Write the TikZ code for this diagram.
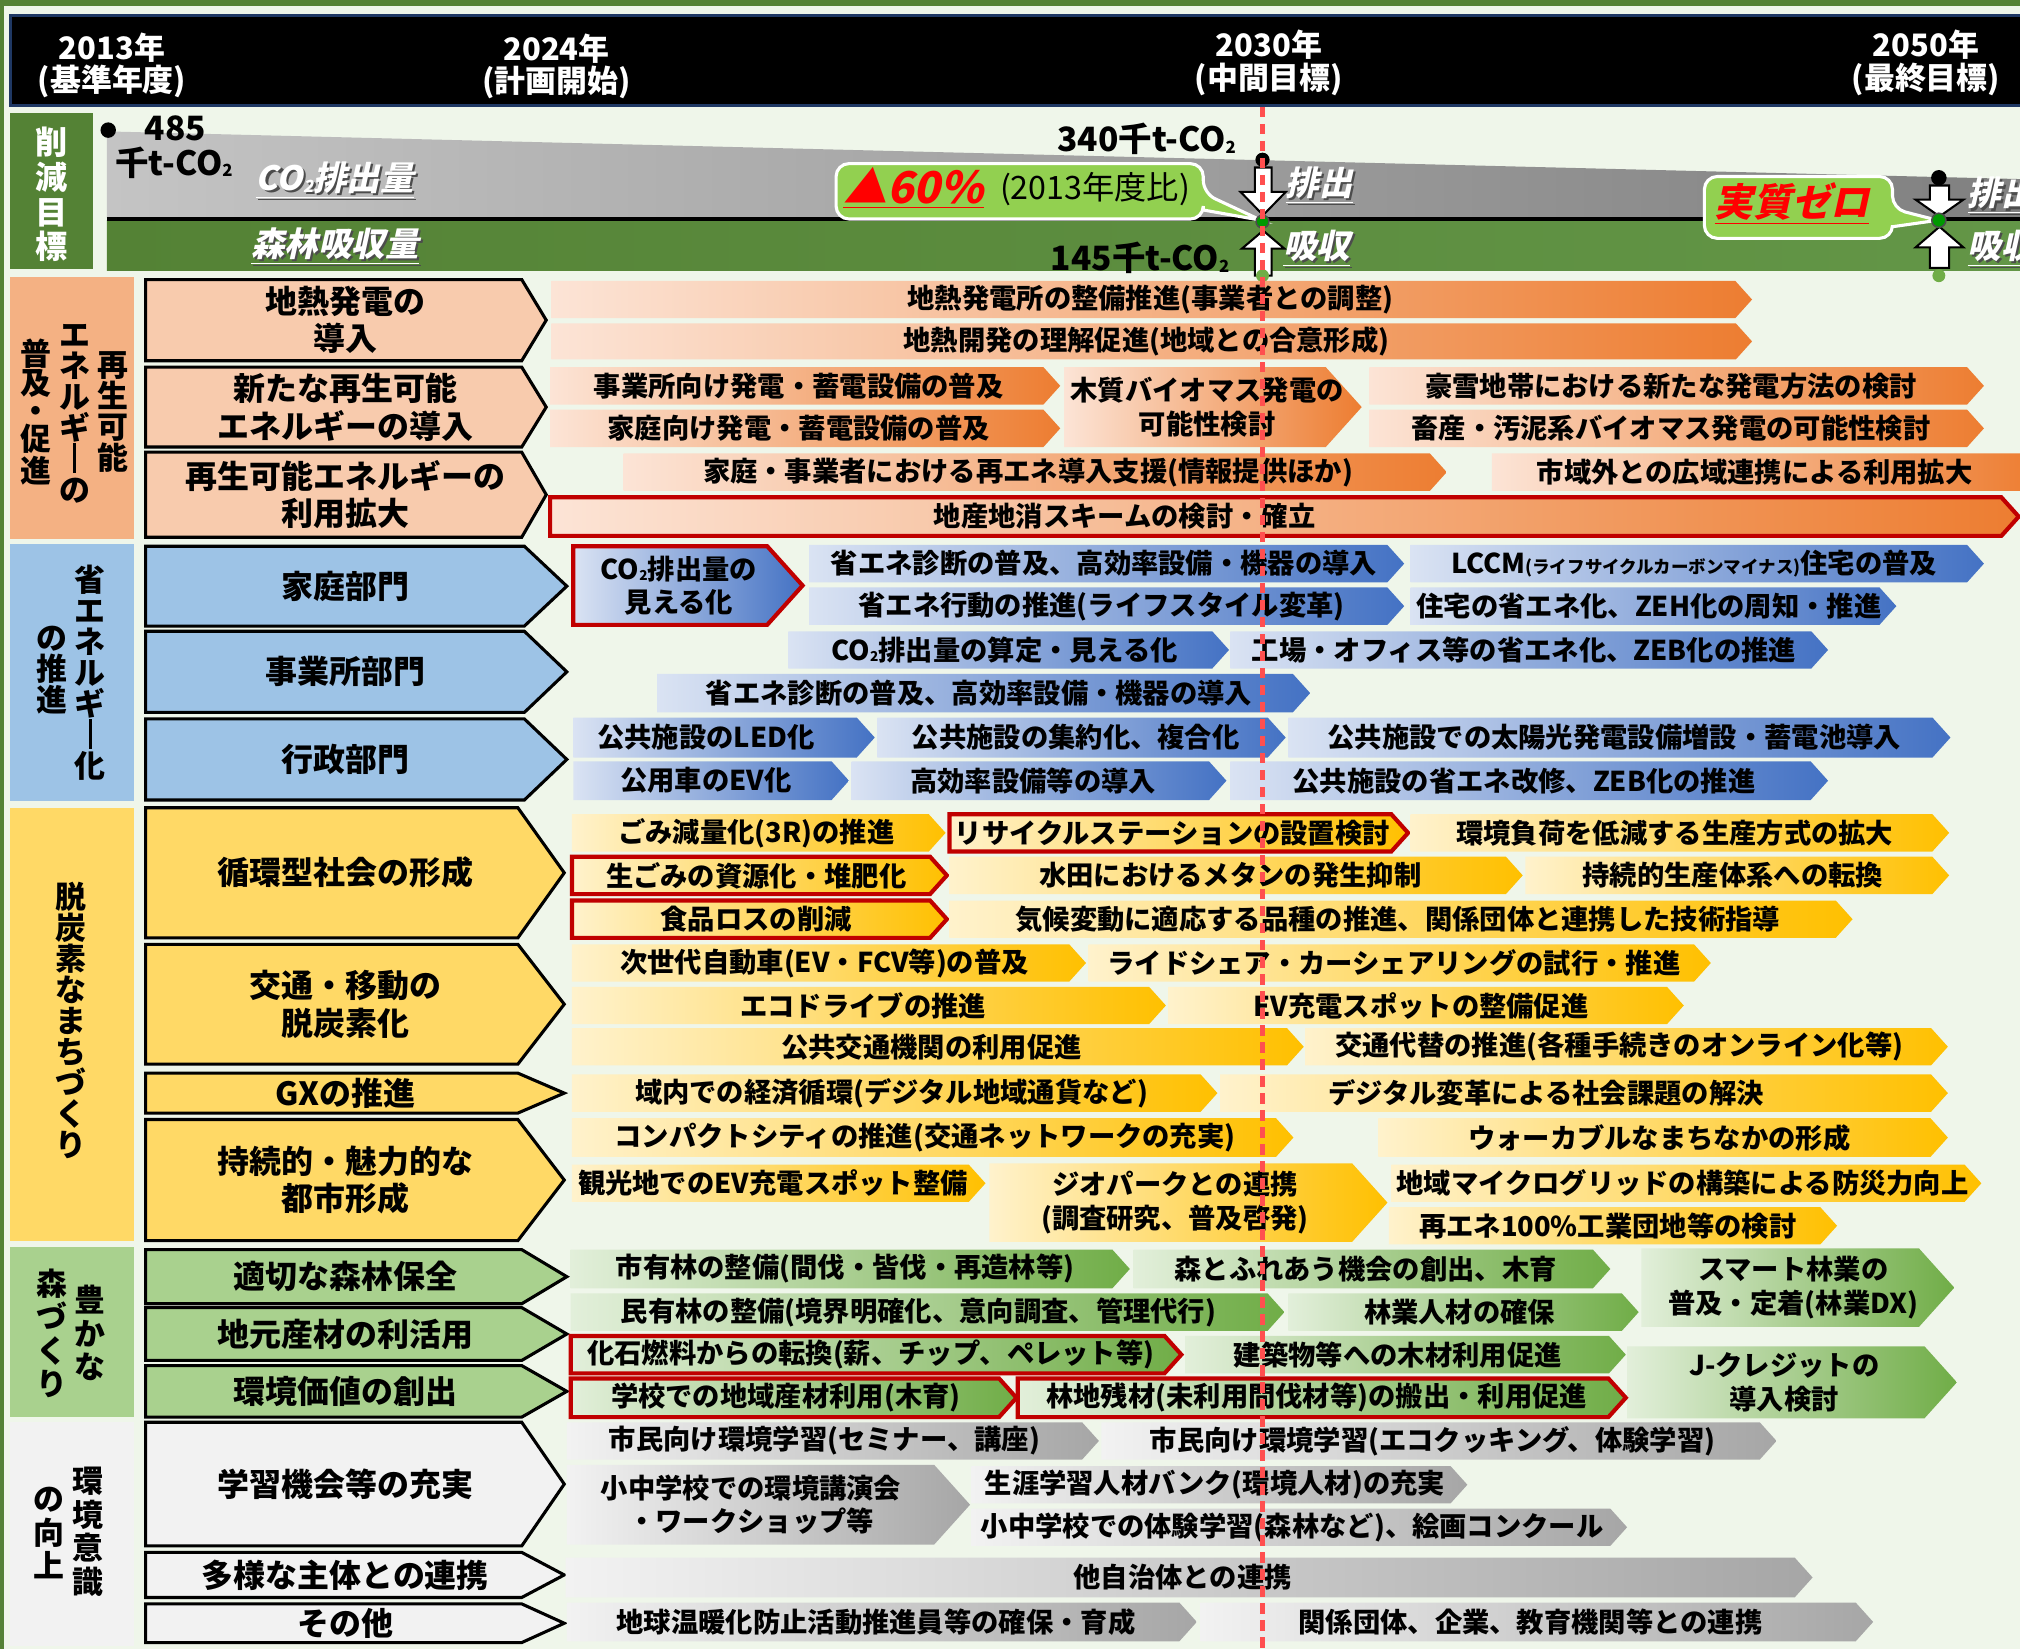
\documentclass[tikz,border=0pt]{standalone}
\usepackage{fontspec}
\setmainfont{Noto Sans CJK JP}
\newfontfamily\jpsl{Noto Sans CJK JP}[FakeSlant=0.22]
\definecolor{bg}{HTML}{EFF6EA}
\definecolor{frameg}{HTML}{548235}
\definecolor{navy}{HTML}{1F3864}
\definecolor{catO}{HTML}{F4B183}
\definecolor{subO}{HTML}{F8CBAD}
\definecolor{oL}{HTML}{FCE4D6}
\definecolor{oR}{HTML}{ED7D31}
\definecolor{catB}{HTML}{9DC3E6}
\definecolor{bL}{HTML}{DAE3F3}
\definecolor{bR}{HTML}{4472C4}
\definecolor{catY}{HTML}{FFD966}
\definecolor{yL}{HTML}{FFF2CC}
\definecolor{yR}{HTML}{FFC000}
\definecolor{catG}{HTML}{A9D18E}
\definecolor{gL}{HTML}{E2EFDA}
\definecolor{gR}{HTML}{70AD47}
\definecolor{catW}{HTML}{F2F2F2}
\definecolor{wL}{HTML}{F2F2F2}
\definecolor{wR}{HTML}{A6A6A6}
\definecolor{redB}{HTML}{C00000}
\definecolor{callG}{HTML}{92D050}
\definecolor{dashR}{HTML}{FF4F4F}
\definecolor{emL}{HTML}{C4C4C4}
\definecolor{emR}{HTML}{808080}
\definecolor{bandL}{HTML}{548235}
\definecolor{bandR}{HTML}{639647}
\newcommand\COtwo{CO\raisebox{-0.1ex}{\scalebox{0.5}{2}}}
\newcommand\vbar{\makebox[1em]{\rule[-0.08em]{0.1em}{0.95em}}}
\tikzset{
  btxt/.style={font=\fontsize{10.6}{13}\selectfont\bfseries, inner sep=0pt, align=center},
  stxt/.style={font=\fontsize{12.4}{14.5}\selectfont\bfseries, inner sep=0pt, align=center},
  vtxt/.style={font=\fontsize{12}{12}\selectfont\bfseries, inner sep=0pt, align=center},
  vtxtw/.style={font=\fontsize{12}{13}\selectfont\bfseries, inner sep=0pt, align=center},
  hdr/.style={font=\fontsize{12}{12}\selectfont\bfseries, text=white, inner sep=0pt},
  lbl/.style={font=\fontsize{13}{13}\selectfont\bfseries, inner sep=0pt},
  sl/.style={font=\fontsize{13}{13}\selectfont\jpsl\bfseries, inner sep=0pt},
  subb/.style={draw=black, line width=1.2pt, line join=miter},
  ob/.style={left color=oL, right color=oR},
  bb/.style={left color=bL, right color=bR},
  yb/.style={left color=yL, right color=yR},
  gb/.style={left color=gL, right color=gR},
  wb/.style={left color=wL, right color=wR},
  redb/.style={draw=redB, line width=1.6pt, line join=miter},
  callout/.style={fill=callG, draw=white, line width=1.2pt, rounded corners=5pt},
  wharrow/.style={fill=white, draw=black, line width=0.8pt, line join=miter},
  dashline/.style={draw=dashR, line width=2pt, dash pattern=on 4pt off 2.6pt},
}
% name, style, x1, xtip, y1, y2, text x, text
\newcommand\actbar[8]{%
  \path[#2] (#3,#5) -- ({#4-0.45*(#6-#5)},#5) -- (#4,{0.5*(#5+#6)}) -- ({#4-0.45*(#6-#5)},#6) -- (#3,#6) -- cycle;
  \node[btxt] (#1) at (#7,{0.5*(#5+#6)}) {#8};}
% name, fill, y1, y2, xs, tip, text
\newcommand\sbx[7]{%
  \draw[subb, fill=#2] (113,#3) -- (#5,#3) -- (#6,{0.5*(#3+#4)}) -- (#5,#4) -- (113,#4) -- cycle;
  \node[stxt] (#1) at (268,{0.5*(#3+#4)}) {#7};}
% shadowed italic label: name, x, y, anchor, text
\newcommand\shlab[5]{%
  \node[sl, anchor=#4, text=black!70] (#1s) at ({#2+1.6},{#3+1.6}) {\underline{#5}};
  \node[sl, anchor=#4, text=white] (#1) at (#2,#3) {\underline{#5}};}
\begin{document}
\begin{tikzpicture}[x=0.5pt,y=-0.5pt]
\useasboundingbox (0,0) rectangle (1568,1280);
\clip (0,0) rectangle (1568,1280);
\fill[bg] (0,0) rectangle (1568,1280);
\fill[frameg] (0,0) rectangle (1568,5);
\fill[frameg] (0,0) rectangle (3,1280);
% header
\draw[navy, line width=1.3pt, fill=black] (8,12) rectangle (1575,82);
\node[hdr] (h1a) at (87,37) {2013年};
\node[hdr] (h1b) at (87,63) {(基準年度)};
\node[hdr] (h2a) at (432,38) {2024年};
\node[hdr] (h2b) at (432,64) {(計画開始)};
\node[hdr] (h3a) at (985,35) {2030年};
\node[hdr] (h3b) at (985,62) {(中間目標)};
\node[hdr] (h4a) at (1495,35) {2050年};
\node[hdr] (h4b) at (1495,62) {(最終目標)};
% reduction target
\fill[frameg] (8,88) rectangle (72,209);
\node[vtxtw, text=white, font=\fontsize{12.5}{13.5}\selectfont\bfseries] (tgt) at (40,151) {削\\減\\目\\標};
\path[left color=emL, right color=emR] (83,102) -- (1568,139) -- (1568,169) -- (83,169) -- cycle;
\path[left color=bandL, right color=bandR] (83,171) rectangle (1568,210);
\draw[black, line width=1.5pt] (83,170) -- (1568,170);
\fill[black] (84,101) circle (6);
\node[lbl] (v485) at (136,100) {485};
\node[lbl] (u485) at (135,126) {千t-\COtwo};
\node[lbl] (v340) at (890,108) {340千t-\COtwo};
\node[lbl] (v145) at (885,200) {145千t-\COtwo};
\shlab{lem}{260}{140}{center}{\COtwo 排出量}
\shlab{lab}{260}{191}{center}{森林吸収量}
% callout 60%
\draw[callout] (649,127) -- (934,127) -- (934,150) [sharp corners] -- (979,171) -- (934,163) [rounded corners=5pt] -- (934,170) -- (649,170) -- cycle;
\node[font=\fontsize{17}{17}\selectfont\jpsl\bfseries, text=red, inner sep=0pt] (p60) at (709,146) {\underline{▲60\%}};
\node[font=\fontsize{12.5}{12.5}\selectfont, inner sep=0pt] (p60b) at (850,147) {(2013年度比)};
% callout zero
\draw[callout] (1323,137) -- (1469,137) -- (1469,162) [sharp corners] -- (1504,171) -- (1469,176) [rounded corners=5pt] -- (1469,185) -- (1323,185) -- cycle;
\node[font=\fontsize{15}{15}\selectfont\jpsl\bfseries, text=red, inner sep=0pt] (zero) at (1391,158) {\underline{実質ゼロ}};
% arrows 2030
\fill[black] (980,124) circle (5.5);
\draw[wharrow] (974,130) -- (987,130) -- (987,149) -- (998,149) -- (980.5,167) -- (963,149) -- (974,149) -- cycle;
\draw[wharrow] (980.5,179) -- (997,193) -- (987,193) -- (987,214) -- (974,214) -- (974,193) -- (964,193) -- cycle;
\draw[fill=green!60!black, draw=black!70, line width=0.6pt] (980,172) circle (5);
\fill[gR] (980,214) circle (5);
\shlab{e30}{1024}{144}{center}{排出}
\shlab{a30}{1022}{193}{center}{吸収}
% arrows 2050
\fill[black] (1505,138) circle (6);
\draw[wharrow] (1498,144) -- (1513,144) -- (1513,155) -- (1524,155) -- (1505.5,168) -- (1487,155) -- (1498,155) -- cycle;
\draw[wharrow] (1505.5,176) -- (1524,192) -- (1513,192) -- (1513,208) -- (1498,208) -- (1498,192) -- (1487,192) -- cycle;
\draw[fill=green!60!black, draw=black!70, line width=0.6pt] (1505,171) circle (5.5);
\fill[gR] (1505,214) circle (5);
\shlab{e50}{1527}{152}{west}{排出}
\shlab{a50}{1527}{193}{west}{吸収}
% ===== section 1
\fill[catO] (8,215) rectangle (104,418);
\node[vtxt] (c1a) at (88,320) {再\\生\\可\\能};
\node[vtxt] (c1b) at (58,321) {エ\\ネ\\ル\\ギ\\\vbar\\の};
\node[vtxt, font=\fontsize{12}{11}\selectfont\bfseries] (c1c) at (28,320) {普\\及\\・\\促\\進};
\sbx{s1}{subO}{217}{280}{405}{424}{地熱発電の\\導入}
\sbx{s2}{subO}{285}{347}{405}{424}{新たな再生可能\\エネルギーの導入}
\sbx{s3}{subO}{351}{417}{405}{424}{再生可能エネルギーの\\利用拡大}
\actbar{o1}{ob}{428}{1360}{218}{247}{893}{地熱発電所の整備推進(事業者との調整)}
\actbar{o2}{ob}{428}{1360}{251}{279}{890}{地熱開発の理解促進(地域との合意形成)}
\actbar{o3}{ob}{427}{823}{285}{314}{620}{事業所向け発電・蓄電設備の普及}
\actbar{o4}{ob}{427}{823}{318}{347}{620}{家庭向け発電・蓄電設備の普及}
\actbar{o5}{ob}{826}{1057}{285}{347}{937}{木質バイオマス発電の\\可能性検討}
\actbar{o6}{ob}{1063}{1540}{285}{314}{1297}{豪雪地帯における新たな発電方法の検討}
\actbar{o7}{ob}{1063}{1540}{318}{347}{1297}{畜産・汚泥系バイオマス発電の可能性検討}
\actbar{o8}{ob}{484}{1123}{352}{381}{798}{家庭・事業者における再エネ導入支援(情報提供ほか)}
\actbar{o9}{ob}{1158}{1582}{352}{381}{1362}{市域外との広域連携による利用拡大}
\actbar{o10}{ob,redb}{427}{1567}{386}{416}{873}{地産地消スキームの検討・確立}
% ===== section 2
\fill[catB] (8,422) rectangle (104,622);
\node[vtxt] (c2a) at (70,522) {省\\エ\\ネ\\ル\\ギ\\\vbar\\化};
\node[vtxt] (c2b) at (40,520) {の\\推\\進};
\sbx{s4}{catB}{424}{486}{407}{440}{家庭部門}
\sbx{s5}{catB}{490}{553}{407}{440}{事業所部門}
\sbx{s6}{catB}{558}{621}{407}{440}{行政部門}
\actbar{b1}{bb,redb}{445}{623}{424}{485}{527}{\COtwo 排出量の\\見える化}
\actbar{b2}{bb}{628}{1090}{423}{452}{857}{省エネ診断の普及、高効率設備・機器の導入}
\actbar{b3}{bb}{1095}{1540}{423}{452}{1315}{LCCM{\fontsize{6.8}{7}\selectfont (ライフサイクルカーボンマイナス)}住宅の普及}
\actbar{b4}{bb}{628}{1090}{456}{485}{855}{省エネ行動の推進(ライフスタイル変革)}
\actbar{b5}{bb}{1095}{1472}{456}{485}{1280}{住宅の省エネ化、ZEH化の周知・推進}
\actbar{b6}{bb}{612}{954}{490}{519}{780}{\COtwo 排出量の算定・見える化}
\actbar{b7}{bb}{955}{1419}{490}{519}{1183}{工場・オフィス等の省エネ化、ZEB化の推進}
\actbar{b8}{bb}{510}{1017}{523}{553}{760}{省エネ診断の普及、高効率設備・機器の導入}
\actbar{b9}{bb}{445}{679}{557}{588}{548}{公共施設のLED化}
\actbar{b10}{bb}{681}{998}{557}{588}{835}{公共施設の集約化、複合化}
\actbar{b11}{bb}{1000}{1514}{557}{588}{1253}{公共施設での太陽光発電設備増設・蓄電池導入}
\actbar{b12}{bb}{445}{659}{591}{621}{548}{公用車のEV化}
\actbar{b13}{bb}{661}{952}{591}{621}{802}{高効率設備等の導入}
\actbar{b14}{bb}{955}{1419}{591}{621}{1183}{公共施設の省エネ改修、ZEB化の推進}
% ===== section 3
\fill[catY] (8,627) rectangle (104,963);
\node[vtxt] (c3a) at (55,792) {脱\\炭\\素\\な\\ま\\ち\\づ\\く\\り};
\sbx{s7}{catY}{627}{728}{402}{438}{循環型社会の形成}
\sbx{s8}{catY}{733}{826}{402}{438}{交通・移動の\\脱炭素化}
\sbx{s9}{catY}{833}{864}{402}{438}{GXの推進}
\sbx{s10}{catY}{869}{963}{402}{438}{持続的・魅力的な\\都市形成}
\actbar{y1}{yb}{444}{734}{632}{661}{587}{ごみ減量化(3R)の推進}
\actbar{y2}{yb,redb}{737}{1093}{632}{661}{910}{リサイクルステーションの設置検討}
\actbar{y3}{yb}{1095}{1513}{632}{661}{1300}{環境負荷を低減する生産方式の拡大}
\actbar{y4}{yb,redb}{444}{735}{665}{694}{587}{生ごみの資源化・堆肥化}
\actbar{y5}{yb}{737}{1182}{665}{694}{955}{水田におけるメタンの発生抑制}
\actbar{y6}{yb}{1184}{1513}{665}{694}{1345}{持続的生産体系への転換}
\actbar{y7}{yb,redb}{444}{735}{699}{728}{587}{食品ロスの削減}
\actbar{y8}{yb}{737}{1438}{699}{728}{1085}{気候変動に適応する品種の推進、関係団体と連携した技術指導}
\actbar{y9}{yb}{444}{843}{733}{762}{640}{次世代自動車(EV・FCV等)の普及}
\actbar{y10}{yb}{845}{1328}{733}{762}{1082}{ライドシェア・カーシェアリングの試行・推進}
\actbar{y11}{yb}{444}{905}{766}{795}{670}{エコドライブの推進}
\actbar{y12}{yb}{907}{1307}{766}{795}{1103}{EV充電スポットの整備促進}
\actbar{y13}{yb}{444}{1012}{798}{827}{723}{公共交通機関の利用促進}
\actbar{y14}{yb}{1013}{1512}{798}{827}{1257}{交通代替の推進(各種手続きのオンライン化等)}
\actbar{y15}{yb}{444}{945}{834}{863}{692}{域内での経済循環(デジタル地域通貨など)}
\actbar{y16}{yb}{947}{1512}{834}{863}{1200}{デジタル変革による社会課題の解決}
\actbar{y17}{yb}{444}{1004}{868}{898}{718}{コンパクトシティの推進(交通ネットワークの充実)}
\actbar{y18}{yb}{1070}{1512}{868}{898}{1288}{ウォーカブルなまちなかの形成}
\actbar{y19}{yb}{444}{765}{904}{933}{600}{観光地でのEV充電スポット整備}
\actbar{y20}{yb}{768}{1077}{903}{964}{912}{ジオパークとの連携\\(調査研究、普及啓発)}
\actbar{y21}{yb}{1080}{1538}{904}{933}{1306}{地域マイクログリッドの構築による防災力向上}
\actbar{y22}{yb}{1078}{1426}{937}{966}{1248}{再エネ100\%工業団地等の検討}
% ===== section 4
\fill[catG] (8,968) rectangle (104,1100);
\node[vtxt, font=\fontsize{12}{13}\selectfont\bfseries] (c4a) at (70,1035) {豊\\か\\な};
\node[vtxt, font=\fontsize{12}{13}\selectfont\bfseries] (c4b) at (40,1035) {森\\づ\\く\\り};
\sbx{s11}{catG}{970}{1012}{405}{440}{適切な森林保全}
\sbx{s12}{catG}{1015}{1056}{405}{440}{地元産材の利活用}
\sbx{s13}{catG}{1060}{1100}{405}{440}{環境価値の創出}
\actbar{g1}{gb}{443}{877}{970}{1000}{656}{市有林の整備(間伐・皆伐・再造林等)}
\actbar{g2}{gb}{880}{1250}{970}{1000}{1060}{森とふれあう機会の創出、木育}
\actbar{g3}{gb}{1274}{1517}{969}{1030}{1392}{スマート林業の\\普及・定着(林業DX)}
\actbar{g4}{gb}{443}{997}{1004}{1033}{713}{民有林の整備(境界明確化、意向調査、管理代行)}
\actbar{g5}{gb}{1000}{1272}{1004}{1033}{1133}{林業人材の確保}
\actbar{g6}{gb,redb}{443}{917}{1037}{1066}{676}{化石燃料からの転換(薪、チップ、ペレット等)}
\actbar{g7}{gb}{920}{1262}{1037}{1066}{1085}{建築物等への木材利用促進}
\actbar{g8}{gb}{1263}{1519}{1045}{1101}{1385}{J-クレジットの\\導入検討}
\actbar{g9}{gb,redb}{443}{789}{1070}{1100}{610}{学校での地域産材利用(木育)}
\actbar{g10}{gb,redb}{790}{1262}{1070}{1100}{1022}{林地残材(未利用間伐材等)の搬出・利用促進}
% ===== section 5
\fill[catW] (8,1104) rectangle (104,1278);
\node[vtxt, font=\fontsize{12}{13}\selectfont\bfseries] (c5a) at (68,1189) {環\\境\\意\\識};
\node[vtxt, font=\fontsize{12}{13}\selectfont\bfseries] (c5b) at (38,1190) {の\\向\\上};
\sbx{s14}{catW}{1104}{1200}{405}{438}{学習機会等の充実}
\sbx{s15}{catW}{1205}{1240}{405}{438}{多様な主体との連携}
\sbx{s16}{catW}{1245}{1275}{405}{438}{その他}
\actbar{w1}{wb}{440}{853}{1104}{1133}{640}{市民向け環境学習(セミナー、講座)}
\actbar{w2}{wb}{855}{1379}{1104}{1133}{1112}{市民向け環境学習(エコクッキング、体験学習)}
\actbar{w3}{wb}{440}{753}{1137}{1199}{583}{小中学校での環境講演会\\・ワークショップ等}
\actbar{w4}{wb}{754}{1139}{1138}{1167}{943}{生涯学習人材バンク(環境人材)の充実}
\actbar{w5}{wb}{754}{1263}{1171}{1200}{1003}{小中学校での体験学習(森林など)、絵画コンクール}
\actbar{w6}{wb}{439}{1407}{1209}{1240}{918}{他自治体との連携}
\actbar{w7}{wb}{440}{929}{1244}{1274}{680}{地球温暖化防止活動推進員等の確保・育成}
\actbar{w8}{wb}{932}{1454}{1244}{1274}{1188}{関係団体、企業、教育機関等との連携}
% 2030 dashed line
\coordinate (dtop) at (980,83);
\coordinate (dbot) at (980,1280);
\draw[dashline] (dtop) -- (dbot);
\end{tikzpicture}
\end{document}
